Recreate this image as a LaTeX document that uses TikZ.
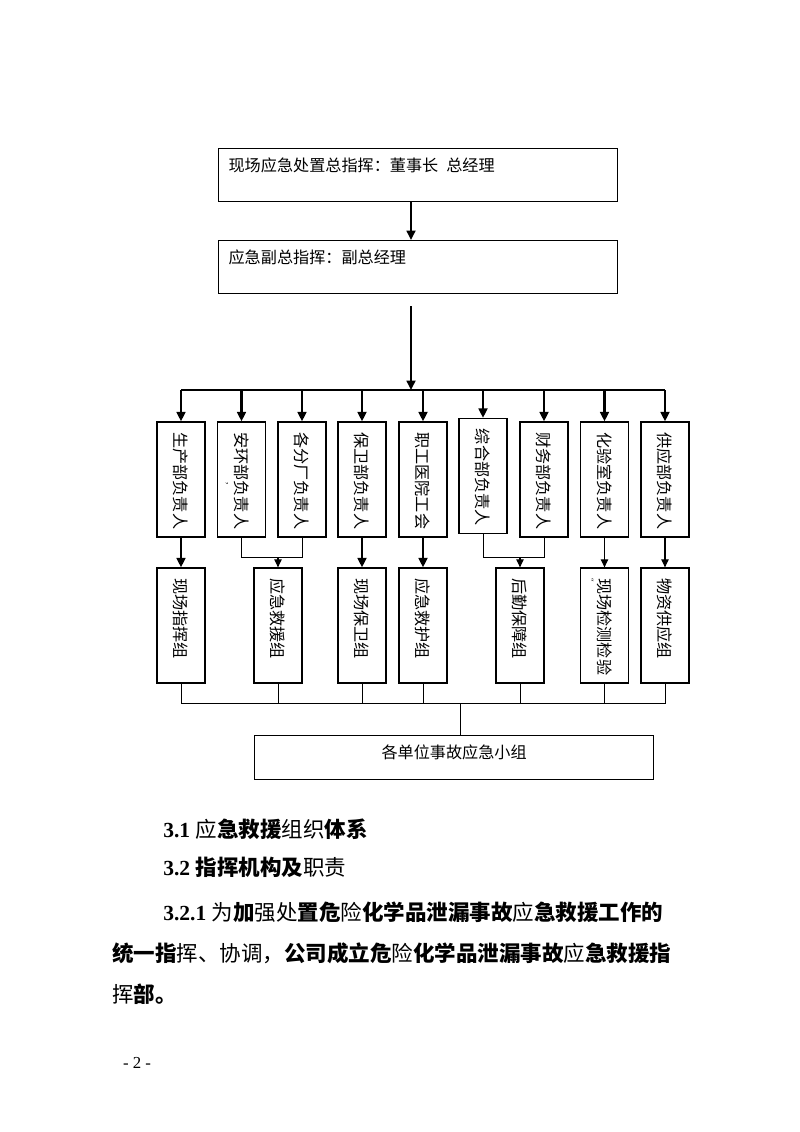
\documentclass[tikz,border=0pt]{standalone}
\usepackage{graphicx}
\usepackage{fontspec}
\setmainfont{Liberation Serif}
\newfontfamily\cjk{Noto Sans CJK SC}
\usetikzlibrary{arrows.meta}
\newcommand\vtext[1]{\rotatebox{-90}{\makebox[70pt][l]{#1}}}
\newcommand\lite[1]{{\mdseries #1}}

\begin{document}
\begin{tikzpicture}[
  x = 0.744pt, y = -0.744pt,
  head/.style = {draw, line width = 0.9pt, anchor = north west, inner xsep = 7pt, inner ysep = 0pt,
                 minimum width = 296.9pt, text width = 282pt, align = left,
                 text height = 17pt, text depth = 22.4pt, font = \cjk\fontsize{12}{12}\selectfont},
  col/.style = {draw, line width = 0.9pt, minimum width = 35.7pt, minimum height = 85.6pt,
                inner sep = 0pt, font = \cjk\fontsize{12}{12}\selectfont},
  grp/.style = {draw, line width = 0.9pt, anchor = north west, minimum width = 296.9pt,
                inner ysep = 0pt, text height = 17.2pt, text depth = 15.5pt,
                font = \cjk\fontsize{12}{12}\selectfont},
  para/.style = {anchor = west, inner sep = 0pt, font = \fontsize{16}{16}\selectfont},
  arr/.style = {line width = 1.8pt, -{Triangle[length = 7pt, width = 6.5pt]}},
  tharr/.style = {line width = 0.8pt, -{Triangle[length = 6pt, width = 5.5pt]}},
  link/.style = {line width = 0.7pt},
  ]
  \useasboundingbox (0,0) rectangle (800,1132);

  \node[head] (chief) at (218,148) {现场应急处置总指挥：董事长\hspace{0.5em}总经理};
  \node[head] (vice) at (218,240) {应急副总指挥：副总经理};

  \node[col] (b1) at (181,479.5) {\vtext{生产部负责人}};
  \node[col] (b2) at (241.5,479.5) {\vtext{安环部负责人}};
  \node[col] (b3) at (302,479.5) {\vtext{各分厂负责人}};
  \node[col] (b4) at (362,479.5) {\vtext{保卫部负责人}};
  \node[col] (b5) at (423,479.5) {\vtext{职工医院工会}};
  \node[col] (b6) at (483,476) {\vtext{综合部负责人}};
  \node[col] (b7) at (544,479.5) {\vtext{财务部负责人}};
  \node[col] (b8) at (604.5,479.5) {\vtext{化验室负责人}};
  \node[col] (b9) at (665,479.5) {\vtext{供应部负责人}};
  \node[inner sep = 0pt, font = \fontsize{7}{7}\selectfont] (mark1) at (227,484) {\rotatebox{-90}{,}};

  \node[col] (r1) at (181,625.5) {\vtext{现场指挥组}};
  \node[col] (r2) at (278,625.5) {\vtext{应急救援组}};
  \node[col] (r3) at (362,625.5) {\vtext{现场保卫组}};
  \node[col] (r4) at (423,625.5) {\vtext{应急救护组}};
  \node[col] (r5) at (520,625.5) {\vtext{后勤保障组}};
  \node[col] (r6) at (604.5,625.5) {\vtext{现场检测检验}};
  \node[col] (r7) at (665,625.5) {\vtext{物资供应组}};
  \node[inner sep = 0pt, font = \fontsize{6}{6}\selectfont] (mark2) at (591,580) {\rotatebox{-90}{“}};

  \node[grp] (team) at (254,735) {各单位事故应急小组};

  \coordinate (drop) at (411,306);
  \coordinate (bus) at (411,390);
  \coordinate (j23) at (278,557);
  \coordinate (j67) at (520,557);
  \coordinate (sink) at (460,703);

  \draw[arr] (chief.south -| drop) -- (vice.north -| drop);
  \draw[arr] (drop) -- (bus);
  \draw[line width = 1.8pt] (b1 |- bus) -- (b9 |- bus);
  \draw[arr] (b1 |- bus) -- (b1.north);
  \draw[arr] (b2 |- bus) -- (b2.north);
  \draw[arr] (b3 |- bus) -- (b3.north);
  \draw[arr] (b4 |- bus) -- (b4.north);
  \draw[arr] (b5 |- bus) -- (b5.north);
  \draw[arr] (b6 |- bus) -- (b6.north);
  \draw[arr] (b7 |- bus) -- (b7.north);
  \draw[arr] (b8 |- bus) -- (b8.north);
  \draw[arr] (b9 |- bus) -- (b9.north);

  \draw[arr] (b1.south) -- (r1.north);
  \draw[link] (b2.south) |- (b3 |- j23) -- (b3.south);
  \draw[tharr] (j23) -- (r2.north);
  \draw[arr] (b4.south) -- (r3.north);
  \draw[arr] (b5.south) -- (r4.north);
  \draw[link] (b6.south) |- (b7 |- j67) -- (b7.south);
  \draw[tharr] (j67) -- (r5.north);
  \draw[tharr] (b8.south) -- (r6.north);
  \draw[tharr] (b9.south) -- (r7.north);

  \draw[link] (r1.south) -- (r1 |- sink) -- (r7 |- sink) -- (r7.south);
  \draw[link] (r2.south) -- (r2 |- sink);
  \draw[link] (r3.south) -- (r3 |- sink);
  \draw[link] (r4.south) -- (r4 |- sink);
  \draw[link] (r5.south) -- (r5 |- sink);
  \draw[link] (r6.south) -- (r6 |- sink);
  \draw[link] (sink) -- (team.north -| sink);

  \node[para] (sec1) at (163,829) {\textbf{3.1} {\cjk\lite{应}\textbf{急救援}\lite{组织}\textbf{体系}}};
  \node[para] (sec2) at (163,867) {\textbf{3.2} {\cjk\textbf{指挥机构及}\lite{职责}}};
  \node[para] (line1) at (163,912) {\textbf{3.2.1} {\cjk\lite{为}\textbf{加}\lite{强处}\textbf{置危}\lite{险}\textbf{化学品泄漏事故}\lite{应}\textbf{急救援工作的}}};
  \node[para] (line2) at (112,953) {\cjk\textbf{统一指}\lite{挥、协调，}\textbf{公司成立危}\lite{险}\textbf{化学品泄漏事故}\lite{应}\textbf{急救援指}};
  \node[para] (line3) at (112,994) {\cjk\lite{挥}\textbf{部。}};
  \node[font = \fontsize{12.5}{12.5}\selectfont] (page) at (137,1063) {- 2 -};
\end{tikzpicture}
\end{document}
